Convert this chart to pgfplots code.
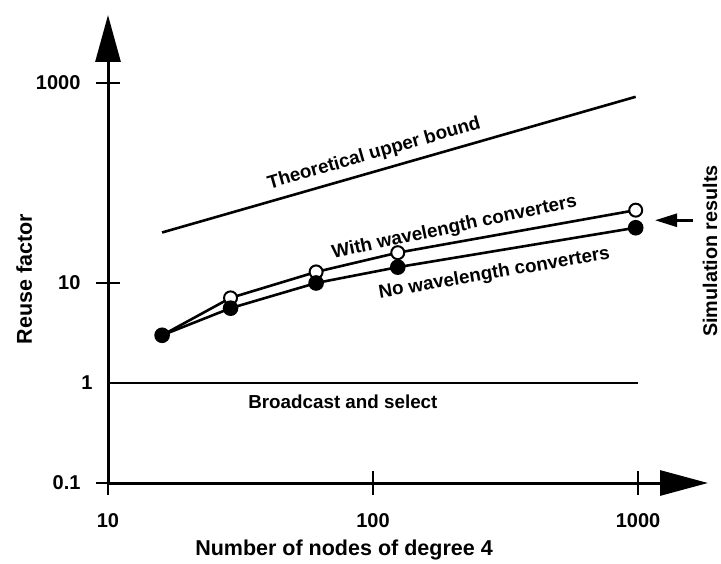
\documentclass[border=0pt]{standalone}
\usepackage{fontspec}
\setmainfont{Liberation Sans}
\usepackage{pgfplots}
\usepackage{pgfplotstable}
\pgfplotsset{compat=1.18}
\usetikzlibrary{arrows.meta}

% Reuse factor versus network size (nodes of degree 4)
\pgfplotstableread{
x    y
16   32
980  728
}\upperbound

\pgfplotstableread{
x    y
16   3.0
29   7.1
61   12.9
124  20.1
980  53.5
}\withconv

\pgfplotstableread{
x    y
16   3.0
29   5.6
61   10.0
124  14.4
980  35.7
}\noconv

\pgfplotstableread{
x    y
10   1
1000 1
}\broadcast

\newcommand\lbl{\bfseries\fontsize{18.8}{22}\selectfont}

\begin{document}
\begin{tikzpicture}
\useasboundingbox (-108pt,-80pt) rectangle (613pt,483pt);
\begin{axis}[
  at={(0pt,0pt)}, anchor=south west,
  scale only axis, width=600pt, height=468pt,
  xmode=log, ymode=log,
  xmin=10, xmax=1837, ymin=0.1, ymax=4786,
  axis lines=left,
  axis line style={line width=3pt, black},
  x axis line style={-{Triangle[length=48pt,width=25pt]}},
  y axis line style={-{Triangle[length=47pt,width=25pt]}},
  xtick={10,100,1000}, xticklabels={10,100,1000},
  ytick={0.1,10,1000}, yticklabels={0.1,10,1000},
  extra y ticks={1}, extra y tick labels={1},
  extra y tick style={major tick length=0pt},
  minor xtick={}, minor ytick={},
  tick align=center, major tick length=24pt,
  tick style={line width=2.5pt, black},
  ticklabel style={font=\bfseries\fontsize{20}{24}\selectfont},
  xticklabel style={yshift=-15pt},
  yticklabel style={xshift=-12pt},
  clip=false,
]
\addplot[black, line width=2.6pt] table {\upperbound};
\addplot[black, line width=2.6pt] table {\broadcast};
\addplot[black, line width=2.6pt, mark=*, mark size=6.5pt,
  mark indices={2,3,4,5},
  mark options={fill=white, draw=black, line width=2pt}] table {\withconv};
\addplot[black, line width=2.6pt, mark=*, mark size=6.5pt,
  mark options={fill=black}] table {\noconv};

\node[rotate=16.0, font=\lbl] at (axis cs:101,195) {Theoretical upper bound};
\node[rotate=12.0, font=\lbl] at (axis cs:203,35.7) {With wavelength converters};
\node[rotate=9.7, font=\lbl] at (axis cs:287,12.4) {No wavelength converters};
\node[font=\lbl] at (axis cs:77,0.646) {Broadcast and select};
\draw[line width=2.6pt, -{Triangle[length=22pt,width=13pt]}]
  (axis cs:1615,42.4) -- (axis cs:1159,42.4);
\end{axis}
\node[anchor=base, font=\bfseries\fontsize{21.5}{24}\selectfont]
  at (236pt,-72pt) {Number of nodes of degree 4};
\node[anchor=base, rotate=90, font=\bfseries\fontsize{21.5}{24}\selectfont]
  at (-76pt,204pt) {Reuse factor};
\node[anchor=base, rotate=90, font=\bfseries\fontsize{19.8}{24}\selectfont]
  at (609pt,232pt) {Simulation results};
\end{tikzpicture}
\end{document}
